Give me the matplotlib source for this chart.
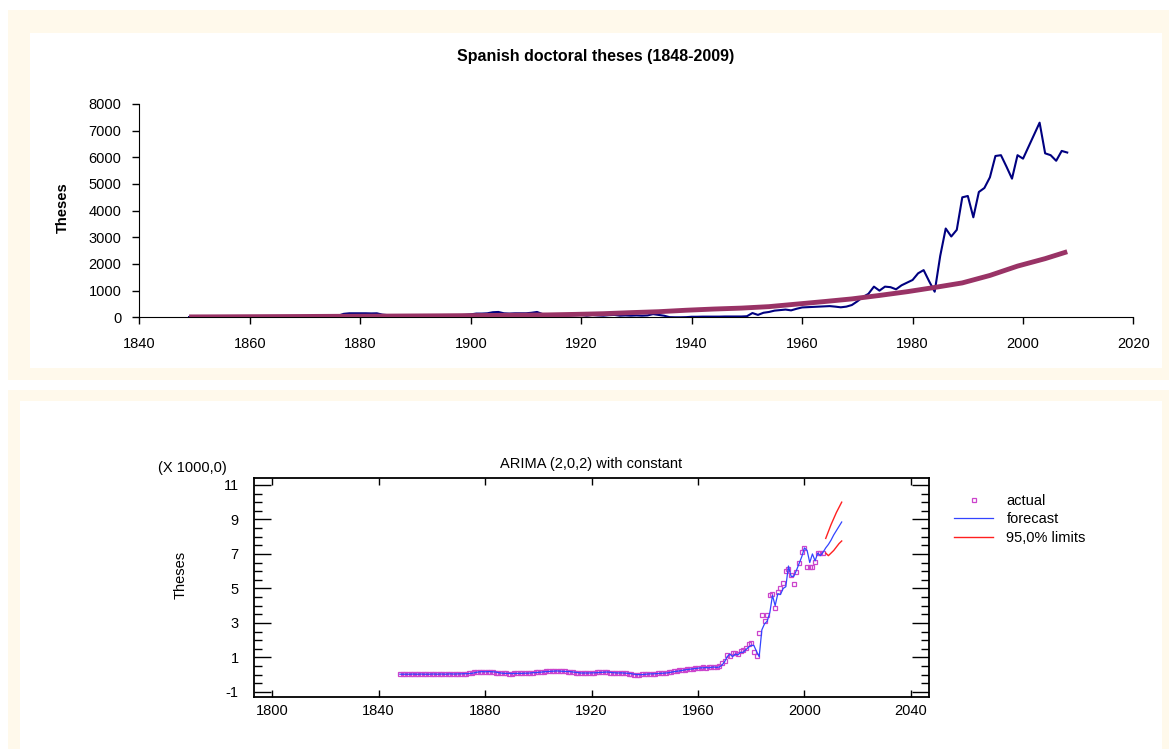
import numpy as np
import matplotlib
matplotlib.use('Agg')
from matplotlib import pyplot as plt
from matplotlib.patches import Rectangle
from matplotlib.lines import Line2D
from matplotlib.ticker import MultipleLocator

plt.rcParams['font.family'] = ['Liberation Sans', 'DejaVu Sans']
plt.rcParams['axes.unicode_minus'] = False

# ---- top chart data: annual theses 1849-2008 and the fitted trend ----
years_top = np.arange(1849, 2009)
theses = [
    10, 15, 20, 15, 30, 15, 20, 25, 20, 15,
    20, 25, 30, 20, 25, 30, 20, 30, 25, 20,
    20, 25, 30, 35, 40, 45, 50, 60, 130, 150,
    150, 150, 150, 145, 150, 100, 80, 70, 60, 60,
    60, 55, 50, 55, 60, 60, 60, 65, 70, 80,
    90, 110, 140, 140, 150, 190, 200, 150, 140, 150,
    150, 150, 170, 200, 120, 100, 80, 70, 60, 70,
    80, 90, 60, 90, 70, 60, 80, 90, 60, 70,
    60, 70, 60, 70, 120, 90, 60, 5, 0, 0,
    5, 20, 20, 25, 25, 25, 25, 30, 30, 30,
    30, 40, 160, 90, 170, 200, 250, 270, 290, 260,
    320, 370, 380, 390, 400, 410, 420, 400, 375, 400,
    460, 600, 760, 880, 1150, 1000, 1150, 1130, 1050, 1200,
    1300, 1400, 1650, 1770, 1350, 960, 2300, 3330, 3030, 3280,
    4500, 4550, 3750, 4700, 4850, 5250, 6050, 6080, 5650, 5200,
    6080, 5950, 6400, 6850, 7300, 6150, 6080, 5870, 6240, 6180,
]
trend_years = [1849, 1854, 1859, 1864, 1869, 1874, 1879, 1884, 1889, 1894,
               1899, 1904, 1909, 1914, 1919, 1924, 1929, 1934, 1939, 1944,
               1949, 1954, 1959, 1964, 1969, 1974, 1979, 1984, 1989, 1994,
               1999, 2004, 2008]
trend = [15, 18, 22, 26, 30, 35, 40, 45, 50, 55,
         62, 70, 80, 90, 110, 135, 175, 210, 265, 310,
         345, 400, 495, 590, 690, 820, 960, 1120, 1290, 1570,
         1920, 2200, 2460]

# ---- bottom chart data (thousands): actual 1848-2007, one-step fit, forecast ----
years_bot = np.arange(1848, 2008)
actual = [
    0.02, 0.03, 0.03, 0.02, 0.04, 0.03, 0.03, 0.04, 0.03, 0.03,
    0.03, 0.04, 0.04, 0.03, 0.04, 0.04, 0.03, 0.04, 0.05, 0.04,
    0.04, 0.05, 0.05, 0.06, 0.06, 0.07, 0.08, 0.12, 0.16, 0.18,
    0.18, 0.17, 0.18, 0.18, 0.17, 0.16, 0.12, 0.09, 0.08, 0.08,
    0.08, 0.07, 0.07, 0.08, 0.08, 0.08, 0.09, 0.09, 0.10, 0.12,
    0.12, 0.13, 0.15, 0.16, 0.18, 0.19, 0.20, 0.21, 0.22, 0.21,
    0.20, 0.19, 0.19, 0.18, 0.16, 0.14, 0.12, 0.10, 0.10, 0.10,
    0.10, 0.11, 0.11, 0.12, 0.13, 0.14, 0.15, 0.16, 0.14, 0.12,
    0.11, 0.10, 0.11, 0.10, 0.09, 0.08, 0.06, 0.03, 0.01, 0.00,
    0.01, 0.02, 0.04, 0.05, 0.05, 0.06, 0.07, 0.08, 0.09, 0.10,
    0.12, 0.15, 0.18, 0.20, 0.22, 0.25, 0.28, 0.30, 0.32, 0.34,
    0.36, 0.38, 0.40, 0.40, 0.42, 0.40, 0.43, 0.45, 0.42, 0.45,
    0.50, 0.70, 0.80, 1.15, 1.10, 1.24, 1.28, 1.20, 1.38, 1.45,
    1.57, 1.78, 1.82, 1.32, 1.09, 2.44, 3.44, 3.13, 3.44, 4.62,
    4.66, 3.85, 4.81, 5.01, 5.30, 6.03, 6.15, 5.78, 5.28, 5.97,
    6.46, 7.10, 7.33, 6.26, 6.26, 6.26, 6.55, 7.07, 7.07, 7.07,
]
fitted = [
    0.03, 0.03, 0.03, 0.03, 0.03, 0.04, 0.03, 0.03, 0.04, 0.03,
    0.03, 0.03, 0.04, 0.04, 0.03, 0.04, 0.04, 0.03, 0.04, 0.05,
    0.04, 0.04, 0.05, 0.05, 0.06, 0.06, 0.07, 0.08, 0.11, 0.15,
    0.17, 0.18, 0.17, 0.18, 0.18, 0.17, 0.16, 0.12, 0.10, 0.08,
    0.08, 0.08, 0.07, 0.07, 0.08, 0.08, 0.08, 0.09, 0.09, 0.10,
    0.12, 0.12, 0.14, 0.15, 0.17, 0.18, 0.19, 0.20, 0.21, 0.22,
    0.21, 0.20, 0.19, 0.19, 0.18, 0.16, 0.14, 0.12, 0.10, 0.10,
    0.10, 0.10, 0.11, 0.11, 0.12, 0.13, 0.14, 0.15, 0.16, 0.14,
    0.12, 0.11, 0.10, 0.11, 0.10, 0.09, 0.08, 0.06, 0.03, 0.01,
    0.01, 0.01, 0.02, 0.04, 0.05, 0.05, 0.06, 0.07, 0.08, 0.09,
    0.10, 0.12, 0.15, 0.18, 0.20, 0.22, 0.25, 0.28, 0.30, 0.32,
    0.34, 0.36, 0.38, 0.40, 0.40, 0.42, 0.40, 0.43, 0.45, 0.42,
    0.45, 0.55, 0.75, 1.05, 1.20, 1.05, 1.20, 1.15, 1.30, 1.30,
    1.45, 1.60, 1.70, 1.70, 1.35, 1.05, 2.60, 2.95, 3.10, 3.60,
    4.60, 4.00, 4.70, 4.65, 5.00, 5.10, 6.30, 5.70, 5.70, 6.05,
    6.45, 6.84, 7.35, 7.20, 6.50, 7.00, 6.60, 7.05, 6.90, 7.10,
]
fc_years = np.arange(2008, 2015)
forecast = [7.35, 7.55, 7.80, 8.10, 8.35, 8.60, 8.85]
upper = [7.90, 8.30, 8.70, 9.05, 9.40, 9.70, 10.00]
lower = [7.05, 6.90, 7.05, 7.20, 7.40, 7.60, 7.75]

W, H = 1169, 749
CREAM = '#FFF9EB'

fig = plt.figure(figsize=(W / 100, H / 100), dpi=100)


def box(x0, y0, x1, y1, color):
    '''rectangle in pixel coords (y from top)'''
    fig.add_artist(Rectangle((x0 / W, 1 - y1 / H), (x1 - x0) / W, (y1 - y0) / H,
                             transform=fig.transFigure, facecolor=color,
                             edgecolor='none', zorder=-10))


box(8, 10, W, 380, CREAM)
box(30, 33, 1162, 368, 'white')
box(8, 390, W, H, CREAM)
box(20, 401, 1162, H, 'white')

# ---------------- top chart ----------------
ax1 = fig.add_axes([139.4 / W, 1 - 317.3 / H, 994.1 / W, 213.3 / H])
ax1.patch.set_alpha(0)
ax1.plot(years_top, theses, color='#000080', lw=1.5, zorder=3)
ax1.plot(trend_years, trend, color='#993366', lw=3.5, zorder=4,
         solid_capstyle='butt')
ax1.set_xlim(1840, 2020)
ax1.set_ylim(0, 8000)
ax1.xaxis.set_major_locator(MultipleLocator(20))
ax1.yaxis.set_major_locator(MultipleLocator(1000))
for s in ('top', 'right'):
    ax1.spines[s].set_visible(False)
ax1.tick_params(direction='out', length=5, width=1, labelsize=10.5)
ax1.tick_params(axis='x', pad=9)
ax1.tick_params(axis='y', pad=8)
fig.text(596 / W, 1 - 57 / H, 'Spanish doctoral theses (1848-2009)',
         ha='center', va='center', fontsize=11.5, fontweight='bold')
fig.text(63 / W, 1 - 208 / H, 'Theses', rotation=90, ha='center',
         va='center', fontsize=10.5, fontweight='bold')

# ---------------- bottom chart ----------------
ax2 = fig.add_axes([254 / W, 1 - 697 / H, 675 / W, 219 / H])
ax2.patch.set_alpha(0)
ax2.plot(years_bot, actual, linestyle='none', marker='s', ms=3.5,
         mfc='none', mec='#CC44CC', mew=0.9, zorder=3)
ax2.plot(np.concatenate([years_bot, fc_years]),
         np.concatenate([fitted, forecast]), color='#3344FF', lw=0.9, zorder=4)
ax2.plot(fc_years, upper, color='#FF2020', lw=1.0, zorder=4)
ax2.plot(fc_years, lower, color='#FF2020', lw=1.0, zorder=4)
ax2.set_xlim(1793.2, 2046.8)
ax2.set_ylim(-1.29, 11.4)
ax2.set_xticks(np.arange(1800, 2041, 40))
ax2.set_yticks(np.arange(-1, 12, 2))
ax2.yaxis.set_minor_locator(MultipleLocator(0.5))
for s in ax2.spines.values():
    s.set_linewidth(1.3)
ax2.tick_params(axis='x', direction='in', top=True, length=5, width=1,
                labelsize=10.5, pad=5)
ax2.tick_params(axis='y', which='major', direction='in', right=True,
                length=12, width=1, labelsize=10.5, pad=11)
ax2.tick_params(axis='y', which='minor', direction='in', right=True,
                length=6, width=1)
ax2.set_title('ARIMA (2,0,2) with constant', fontsize=10.5, pad=7)
fig.text(192 / W, 1 - 468 / H, '(X 1000,0)', ha='center', va='center',
         fontsize=10.5)
fig.text(181 / W, 1 - 575 / H, 'Theses', rotation=90, ha='center',
         va='center', fontsize=10.5)

handles = [
    Line2D([], [], linestyle='none', marker='s', ms=3.5, mfc='none',
           mec='#CC44CC', mew=0.9),
    Line2D([], [], color='#3344FF', lw=0.9),
    Line2D([], [], color='#FF2020', lw=1.0),
]
fig.legend(handles, ['actual', 'forecast', '95,0% limits'],
           loc='upper left', bbox_to_anchor=(954 / W, 1 - 494 / H),
           frameon=False, fontsize=10.5, handlelength=2.7,
           handletextpad=0.9, labelspacing=0.3, borderpad=0,
           borderaxespad=0)

fig.savefig('out.png', dpi=100, facecolor='white')
